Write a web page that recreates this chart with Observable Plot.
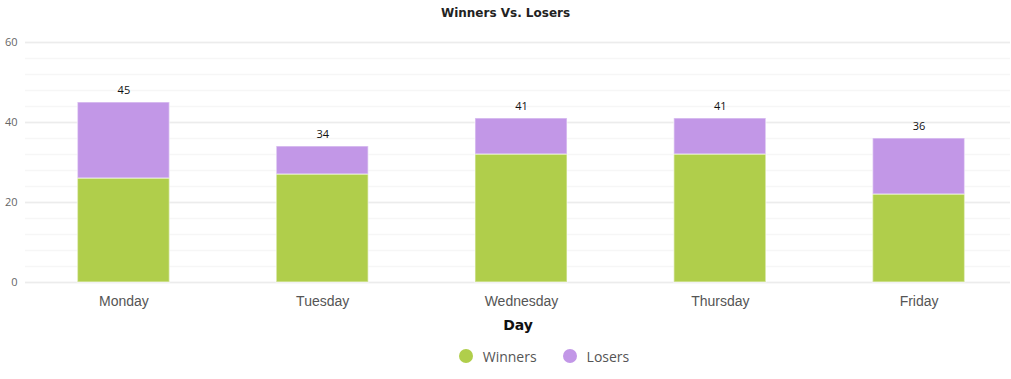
<!DOCTYPE html>
<html>
<head>
<meta charset="utf-8">
<script src="https://cdn.jsdelivr.net/npm/d3@7"></script>
<script src="https://cdn.jsdelivr.net/npm/@observablehq/plot@0.6"></script>
<style>
  html, body { margin: 0; padding: 0; background: #fff; }
  #wrap { width: 1011px; }
  #title { height: 26px; box-sizing: border-box; padding-top: 6px; line-height: 16px; text-align: center; font: bold 12px "DejaVu Sans", sans-serif; color: #222; }
  #legend { height: 40px; display: flex; justify-content: center; align-items: center; gap: 26px; font: 14px "Open Sans", sans-serif; color: #555; padding-left: 77px; }
  .item { display: flex; align-items: center; gap: 10px; }
  .sw { width: 14px; height: 14px; border-radius: 50%; display: inline-block; }
</style>
</head>
<body>
<div id="wrap">
  <div id="title">Winners Vs. Losers</div>
  <div id="chart"></div>
  <div id="legend"></div>
</div>
<script>
const days = ["Monday", "Tuesday", "Wednesday", "Thursday", "Friday"];
const winners = [26, 27, 32, 32, 22];
const losers = [19, 7, 9, 9, 14];
const seriesNames = ["Winners", "Losers"];
const seriesColors = ["#b0ce4b", "#c297e7"];
const yTicks = [0, 20, 40, 60];
const minorTicks = d3.range(0, 61, 4);

const rows = [];
days.forEach((d, i) => {
  rows.push({day: d, series: "Winners", value: winners[i]});
  rows.push({day: d, series: "Losers", value: losers[i]});
});
const totals = days.map((d, i) => ({day: d, total: winners[i] + losers[i]}));

const chart = Plot.plot({
  width: 1011,
  height: 310,
  marginLeft: 25,
  marginRight: 1,
  marginTop: 16,
  marginBottom: 54,
  style: {fontFamily: "'Liberation Sans', Arial, sans-serif", background: "#fff"},
  x: {domain: days, paddingInner: 0.537, paddingOuter: 0.2685, range: [24, 1018], round: false, label: null},
  y: {domain: [0, 60], label: null},
  color: {domain: seriesNames, range: seriesColors},
  marks: [
    Plot.ruleY(minorTicks, {stroke: "#f6f6f6", strokeWidth: 1.5}),
    Plot.ruleY(yTicks, {stroke: "#ececec", strokeWidth: 1.5}),
    Plot.axisY({ticks: yTicks, tickSize: 0, tickPadding: 8, fontSize: 11, fill: "#666", label: null, fontFamily: "'Open Sans', sans-serif"}),
    Plot.axisX({tickSize: 0, tickPadding: 14, fontSize: 14, fill: "#555", label: null}),
    Plot.barY(rows, Plot.stackY({
      x: "day", y: "value", fill: "series",
      order: seriesNames,
      stroke: "#ffffff", strokeOpacity: 0.45, strokeWidth: 1.5
    })),
    Plot.text(totals, {x: "day", y: "total", text: d => String(d.total), dy: -12, fontSize: 11, fill: "#111", fontFamily: "'Open Sans', sans-serif"}),
    Plot.text(["Day"], {frameAnchor: "bottom", dy: 47, text: d => d, fontSize: 14, fontWeight: "bold", fill: "#111", fontFamily: "'DejaVu Sans', sans-serif"})
  ]
});
document.getElementById("chart").appendChild(chart);

const legend = document.getElementById("legend");
seriesNames.forEach((s, i) => {
  const it = document.createElement("div");
  it.className = "item";
  it.innerHTML = `<span class="sw" style="background:${seriesColors[i]}"></span><span>${s}</span>`;
  legend.appendChild(it);
});
</script>
</body>
</html>
